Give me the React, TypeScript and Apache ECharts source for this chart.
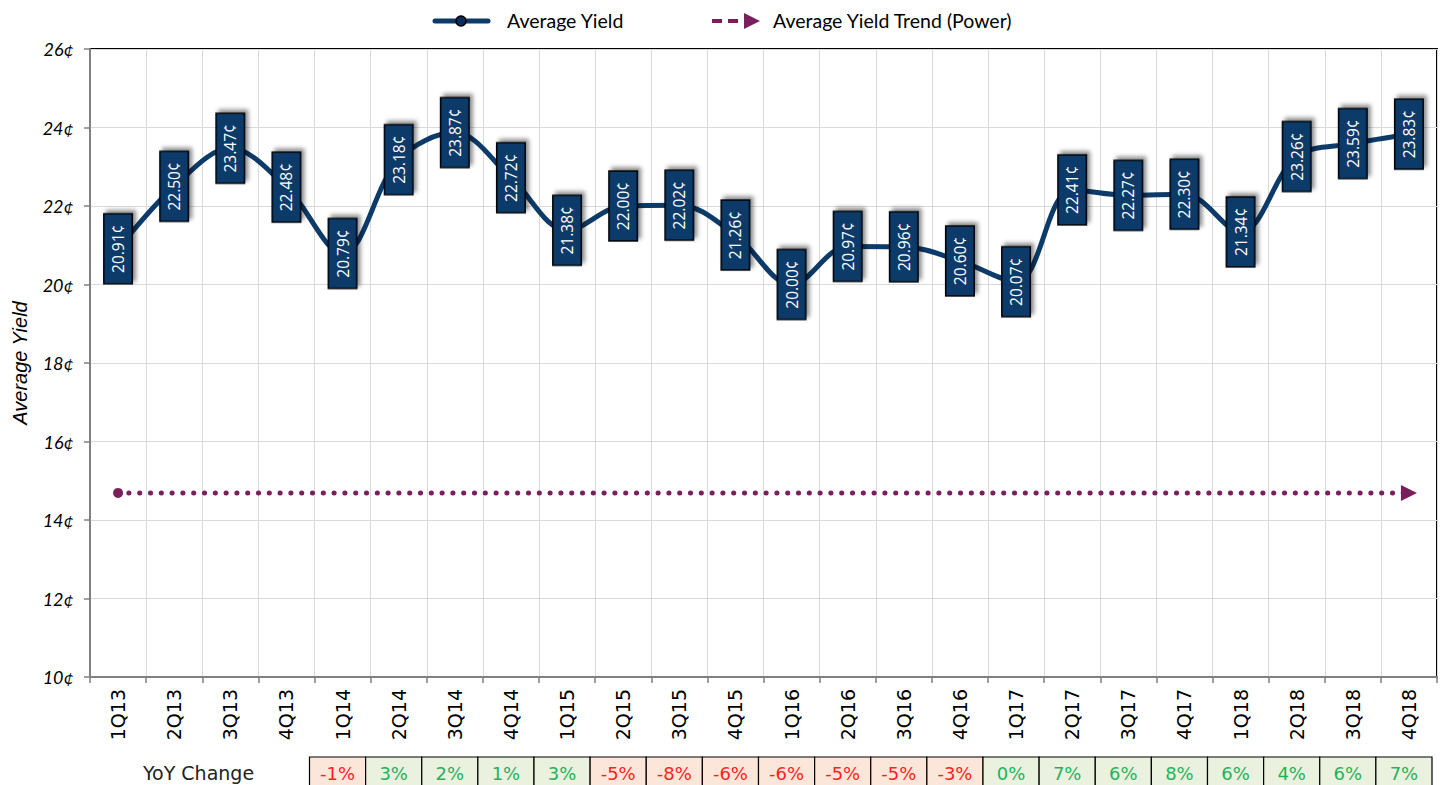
import React, { useEffect, useRef } from "react";
import * as echarts from "echarts";

const categories = [
  "1Q13", "2Q13", "3Q13", "4Q13",
  "1Q14", "2Q14", "3Q14", "4Q14",
  "1Q15", "2Q15", "3Q15", "4Q15",
  "1Q16", "2Q16", "3Q16", "4Q16",
  "1Q17", "2Q17", "3Q17", "4Q17",
  "1Q18", "2Q18", "3Q18", "4Q18",
];

const avgYield = [
  20.91, 22.5, 23.47, 22.48,
  20.79, 23.18, 23.87, 22.72,
  21.38, 22.0, 22.02, 21.26,
  20.0, 20.97, 20.96, 20.6,
  20.07, 22.41, 22.27, 22.3,
  21.34, 23.26, 23.59, 23.83,
];

const trendStart = 14.69;
const trendEnd = 14.69;

const yoyCategories = categories.slice(4);
const yoyChange = [-1, 3, 2, 1, 3, -5, -8, -6, -6, -5, -5, -3, 0, 7, 6, 8, 6, 4, 6, 7];

const yMin = 10;
const yMax = 26;
const yInterval = 2;

const NAVY = "#0C3A69";
const PLUM = "#7A1F5C";
const FONT = "Lato, 'Open Sans', sans-serif";
const ITALIC_FONT = "'Liberation Sans', Arial, sans-serif";
const GEO_FONT = "'DejaVu Sans', sans-serif";

export default function App() {
  const ref = useRef<HTMLDivElement>(null);

  useEffect(() => {
    document.body.style.margin = "0";
    const chart = echarts.init(ref.current!, null, { renderer: "svg" });
    const option: any = {
      animation: false,
      backgroundColor: "#fff",
      textStyle: { fontFamily: FONT },
      grid: [
        {
          left: 90, right: 5, top: 49, bottom: 108,
          show: true, borderColor: "#000", borderWidth: 2, backgroundColor: "transparent",
        },
        { left: 90, right: 5, top: 757, height: 28, show: false },
      ],
      xAxis: [
        {
          type: "category",
          data: categories,
          boundaryGap: true,
          gridIndex: 0,
          axisLine: { lineStyle: { color: "#808080", width: 2 } },
          axisTick: { show: true, length: 6, lineStyle: { color: "#808080", width: 1.5 } },
          axisLabel: { rotate: 90, fontSize: 19, color: "#000", margin: 12, fontFamily: GEO_FONT },
          splitLine: { show: true, lineStyle: { color: "#DADADA", width: 1 } },
        },
        {
          type: "category",
          data: categories,
          gridIndex: 1,
          show: false,
        },
      ],
      yAxis: [
        {
          type: "value",
          min: yMin, max: yMax, interval: yInterval,
          gridIndex: 0,
          name: "Average Yield",
          nameLocation: "middle",
          nameGap: 60,
          nameRotate: 90,
          nameTextStyle: { fontStyle: "italic", fontSize: 20, color: "#000", fontFamily: ITALIC_FONT },
          axisLine: { show: true, lineStyle: { color: "#808080", width: 2 } },
          axisTick: { show: true, length: 6, lineStyle: { color: "#808080", width: 1.5 } },
          axisLabel: {
            formatter: "{value}¢", fontStyle: "italic", fontSize: 18, color: "#000", margin: 16, fontFamily: FONT,
          },
          splitLine: { show: true, lineStyle: { color: "#DADADA", width: 1 } },
        },
        { type: "value", min: 0, max: 1, gridIndex: 1, show: false },
      ],
      series: [
        {
          name: "Average Yield Trend (Power)",
          type: "line",
          xAxisIndex: 0, yAxisIndex: 0,
          data: [
            { value: [0, trendStart], symbol: "circle", symbolSize: 10 },
            { value: [categories.length - 1, trendEnd], symbol: "triangle", symbolSize: [16, 16], symbolRotate: -90 },
          ],
          lineStyle: { color: PLUM, width: 5, type: [0.1, 10.7], cap: "round" },
          itemStyle: { color: PLUM },
          z: 2,
        },
        {
          name: "Average Yield",
          type: "line",
          xAxisIndex: 0, yAxisIndex: 0,
          data: avgYield,
          smooth: 0.35,
          symbol: "circle",
          symbolSize: 1,
          lineStyle: { color: NAVY, width: 5 },
          itemStyle: { color: NAVY },
          z: 3,
          label: {
            show: true,
            position: "inside",
            rotate: 90,
            formatter: (p: any) => p.value.toFixed(2) + "¢",
            color: "#fff",
            fontSize: 15.5,
            fontFamily: "'Open Sans', sans-serif",
            backgroundColor: NAVY,
            borderColor: "#000",
            borderWidth: 1.5,
            padding: [6, 10, 5, 10],
            shadowColor: "rgba(0,0,0,0.45)",
            shadowBlur: 4,
            shadowOffsetX: 3,
            shadowOffsetY: 3,
          },
        },
        {
          name: "YoY",
          type: "custom",
          xAxisIndex: 1, yAxisIndex: 1,
          data: yoyChange.map((v, i) => [yoyCategories[i], v]),
          renderItem: (params: any, api: any) => {
            const cs = params.coordSys;
            const idx = api.value(0);
            const v = api.value(1);
            const c = api.coord([idx, 0]);
            const w = api.size([1, 0])[0];
            const neg = v < 0;
            const cx = c[0] - 5;
            return {
              type: "group",
              children: [
                {
                  type: "rect",
                  shape: { x: cx - w / 2, y: cs.y, width: w, height: cs.height + 10 },
                  style: { fill: neg ? "#FCE6D9" : "#EBF1DF", stroke: "#000", lineWidth: 1.2 },
                },
                {
                  type: "text",
                  x: cx,
                  y: cs.y + 16,
                  style: {
                    text: v + "%",
                    align: "center",
                    verticalAlign: "middle",
                    fill: neg ? "#FF1F1F" : "#1DB45A",
                    font: "18px 'DejaVu Sans', sans-serif",
                  },
                },
              ],
            };
          },
        },
      ],
      graphic: [
        {
          type: "text",
          left: 143,
          top: 763,
          style: { text: "YoY Change", font: "19px 'DejaVu Sans', sans-serif", fill: "#222" },
        },
        {
          type: "line",
          shape: { x1: 435, y1: 21, x2: 488, y2: 21 },
          style: { stroke: NAVY, lineWidth: 5, lineCap: "round" },
        },
        {
          type: "circle",
          shape: { cx: 461, cy: 21, r: 5 },
          style: { fill: "#0A2E5C", stroke: "#000", lineWidth: 1.5 },
        },
        {
          type: "text",
          left: 507,
          top: 10,
          style: { text: "Average Yield", font: "19.5px Lato, sans-serif", fill: "#000" },
        },
        {
          type: "line",
          shape: { x1: 712, y1: 21, x2: 746, y2: 21 },
          style: { stroke: PLUM, lineWidth: 4, lineDash: [10, 6] },
        },
        {
          type: "polygon",
          shape: { points: [[744, 13], [760, 21], [744, 29]] },
          style: { fill: PLUM },
        },
        {
          type: "text",
          left: 773,
          top: 10,
          style: { text: "Average Yield Trend (Power)", font: "19.5px Lato, sans-serif", fill: "#000" },
        },
      ],
    };
    chart.setOption(option);
    return () => chart.dispose();
  }, []);

  return <div ref={ref} style={{ width: 1442, height: 785 }} />;
}
